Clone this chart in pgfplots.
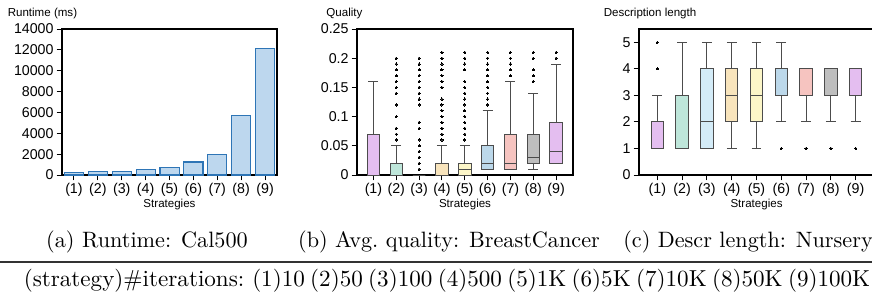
\documentclass[border=0pt]{standalone}
\usepackage{fontspec}
\usepackage{pgfplots}
\pgfplotsset{compat=1.18}
\usepgfplotslibrary{statistics}
\newfontfamily\arialf{Liberation Sans}
\newcommand\sfs{\arialf\fontsize{5.2}{6.2}\selectfont}
\newcommand\sft{\arialf\fontsize{6.4}{7.4}\selectfont}
\definecolor{c1}{RGB}{228,190,240}
\definecolor{c2}{RGB}{190,230,218}
\definecolor{c3}{RGB}{212,236,248}
\definecolor{c4}{RGB}{248,228,188}
\definecolor{c5}{RGB}{252,246,200}
\definecolor{c6}{RGB}{188,216,234}
\definecolor{c7}{RGB}{246,196,192}
\definecolor{c8}{RGB}{190,190,190}
\definecolor{barfill}{RGB}{189,215,238}
\definecolor{baredge}{RGB}{46,117,182}
\pgfplotsset{
  myax/.style={scale only axis, height=65.7pt, anchor=south west, ymin=0,
    axis line style={line width=0.5pt},
    tick style={line width=0.45pt, black},
    tick align=outside, major tick length=2.4pt, tick pos=left,
    xtick={1,...,9}, xticklabels={(1),(2),(3),(4),(5),(6),(7),(8),(9)},
    ticklabel style={font=\sft, inner sep=1.2pt},
    label style={font=\sfs},
    scaled ticks=false,
    /pgf/number format/assume math mode=true,
    xlabel=Strategies,
    xlabel style={at={(axis description cs:0.5,0)}, anchor=center, yshift=-13.5pt},
    boxplot/draw direction=y,
  },
  bx/.style={draw=black!70, line width=0.45pt, fill=#1, mark=*, mark size=0.5pt,
    mark options={fill=black, draw=black, line width=0pt}},
}
\begin{document}
\begin{tikzpicture}
\useasboundingbox (0,0) rectangle (392.4pt,-134.1pt);
% panel a
\begin{axis}[myax, at={(27.9pt,-78.75pt)}, width=96.75pt, xmin=0.5, xmax=9.5,
  ymax=14000, ytick={0,2000,4000,6000,8000,10000,12000,14000},
  yticklabels={0,2000,4000,6000,8000,10000,12000,14000},
  ybar, bar width=0.8]
\addplot[draw=baredge, fill=barfill, line width=0.5pt] coordinates
  {(1,250) (2,300) (3,350) (4,550) (5,750) (6,1250) (7,1950) (8,5700) (9,12100)};
\end{axis}
% panel b
\begin{axis}[myax, at={(160.65pt,-78.75pt)}, width=97.2pt, xmin=0.28, xmax=9.74,
  ymax=0.25, ytick={0,0.05,0.1,0.15,0.2,0.25},
  yticklabels={0,0.05,0.1,0.15,0.2,0.25},
  boxplot/box extend=0.55]
\addplot[bx=c1, boxplot prepared={draw position=1, lower whisker=0, lower quartile=0, median=0, upper quartile=0.07, upper whisker=0.16}] coordinates {};
\addplot[bx=c2, boxplot prepared={draw position=2, lower whisker=0, lower quartile=0, median=0, upper quartile=0.02, upper whisker=0.05}]
  table[row sep=\\, y index=0] {data\\0.20\\0.19\\0.18\\0.17\\0.16\\0.15\\0.14\\0.12\\0.10\\0.08\\0.07\\0.06\\};
\addplot[bx=c3, boxplot prepared={draw position=3, lower whisker=0, lower quartile=0, median=0, upper quartile=0, upper whisker=0}]
  table[row sep=\\, y index=0] {data\\0.20\\0.19\\0.18\\0.17\\0.16\\0.15\\0.14\\0.13\\0.12\\0.09\\0.08\\0.06\\0.05\\0.04\\0.03\\0.02\\0.01\\};
\addplot[bx=c4, boxplot prepared={draw position=4, lower whisker=0, lower quartile=0, median=0, upper quartile=0.02, upper whisker=0.05}]
  table[row sep=\\, y index=0] {data\\0.21\\0.20\\0.19\\0.18\\0.17\\0.16\\0.15\\0.13\\0.12\\0.11\\0.10\\0.09\\0.08\\0.07\\0.06\\};
\addplot[bx=c5, boxplot prepared={draw position=5, lower whisker=0, lower quartile=0, median=0.01, upper quartile=0.02, upper whisker=0.05}]
  table[row sep=\\, y index=0] {data\\0.21\\0.20\\0.19\\0.18\\0.16\\0.15\\0.14\\0.13\\0.12\\0.11\\0.10\\0.09\\0.08\\0.07\\0.06\\};
\addplot[bx=c6, boxplot prepared={draw position=6, lower whisker=0.01, lower quartile=0.01, median=0.02, upper quartile=0.05, upper whisker=0.11}]
  table[row sep=\\, y index=0] {data\\0.21\\0.20\\0.19\\0.18\\0.17\\0.16\\0.15\\0.14\\0.13\\0.12\\};
\addplot[bx=c7, boxplot prepared={draw position=7, lower whisker=0.01, lower quartile=0.01, median=0.02, upper quartile=0.07, upper whisker=0.16}]
  table[row sep=\\, y index=0] {data\\0.21\\0.20\\0.19\\0.18\\0.17\\};
\addplot[bx=c8, boxplot prepared={draw position=8, lower whisker=0.01, lower quartile=0.02, median=0.03, upper quartile=0.07, upper whisker=0.14}]
  table[row sep=\\, y index=0] {data\\0.21\\0.20\\0.18\\0.17\\0.16\\};
\addplot[bx=c1, boxplot prepared={draw position=9, lower whisker=0.02, lower quartile=0.02, median=0.04, upper quartile=0.09, upper whisker=0.19}]
  table[row sep=\\, y index=0] {data\\0.21\\0.20\\};
\end{axis}
% panel c
\begin{axis}[myax, at={(287.55pt,-78.75pt)}, width=105.75pt, xmin=0.26, xmax=9.74,
  ymax=5.5, ytick={0,1,2,3,4,5}, yticklabels={0,1,2,3,4,5},
  boxplot/box extend=0.5]
\addplot[bx=c1, boxplot prepared={draw position=1, lower whisker=1, lower quartile=1, median=1, upper quartile=2, upper whisker=3}]
  table[row sep=\\, y index=0] {data\\4\\5\\};
\addplot[bx=c2, boxplot prepared={draw position=2, lower whisker=1, lower quartile=1, median=1, upper quartile=3, upper whisker=5}] coordinates {};
\addplot[bx=c3, boxplot prepared={draw position=3, lower whisker=1, lower quartile=1, median=2, upper quartile=4, upper whisker=5}] coordinates {};
\addplot[bx=c4, boxplot prepared={draw position=4, lower whisker=1, lower quartile=2, median=3, upper quartile=4, upper whisker=5}] coordinates {};
\addplot[bx=c5, boxplot prepared={draw position=5, lower whisker=1, lower quartile=2, median=3, upper quartile=4, upper whisker=5}] coordinates {};
\addplot[bx=c6, boxplot prepared={draw position=6, lower whisker=2, lower quartile=3, median=3, upper quartile=4, upper whisker=5}]
  table[row sep=\\, y index=0] {data\\1\\};
\addplot[bx=c7, boxplot prepared={draw position=7, lower whisker=2, lower quartile=3, median=3, upper quartile=4, upper whisker=4}]
  table[row sep=\\, y index=0] {data\\1\\};
\addplot[bx=c8, boxplot prepared={draw position=8, lower whisker=2, lower quartile=3, median=3, upper quartile=4, upper whisker=4}]
  table[row sep=\\, y index=0] {data\\1\\};
\addplot[bx=c1, boxplot prepared={draw position=9, lower whisker=2, lower quartile=3, median=3, upper quartile=4, upper whisker=4}]
  table[row sep=\\, y index=0] {data\\1\\};
\end{axis}
% titles
\node[anchor=west, font=\sfs, inner sep=0] at (3.3pt,-6pt) {Runtime (ms)};
\node[anchor=west, font=\sfs, inner sep=0] at (146.7pt,-6pt) {Quality};
\node[anchor=west, font=\sfs, inner sep=0] at (271.5pt,-6pt) {Description length};
% captions
\node[anchor=base] at (66.15pt,-111.4pt) {(a) Runtime: Cal500};
\node[anchor=base] at (202.05pt,-111.4pt) {(b) Avg.\ quality: BreastCancer};
\node[anchor=base] at (336.6pt,-111.4pt) {(c) Descr length: Nursery};
\draw[line width=0.8pt, black!80] (0,-117.9pt) -- (392.4pt,-117.9pt);
\node[anchor=base west, inner sep=0] at (10.5pt,-128.9pt)
  {\fontsize{10.4}{12}\selectfont\spaceskip=2.4pt (strategy)\#iterations: (1)10 (2)50 (3)100 (4)500 (5)1K (6)5K (7)10K (8)50K (9)100K};
\end{tikzpicture}
\end{document}
